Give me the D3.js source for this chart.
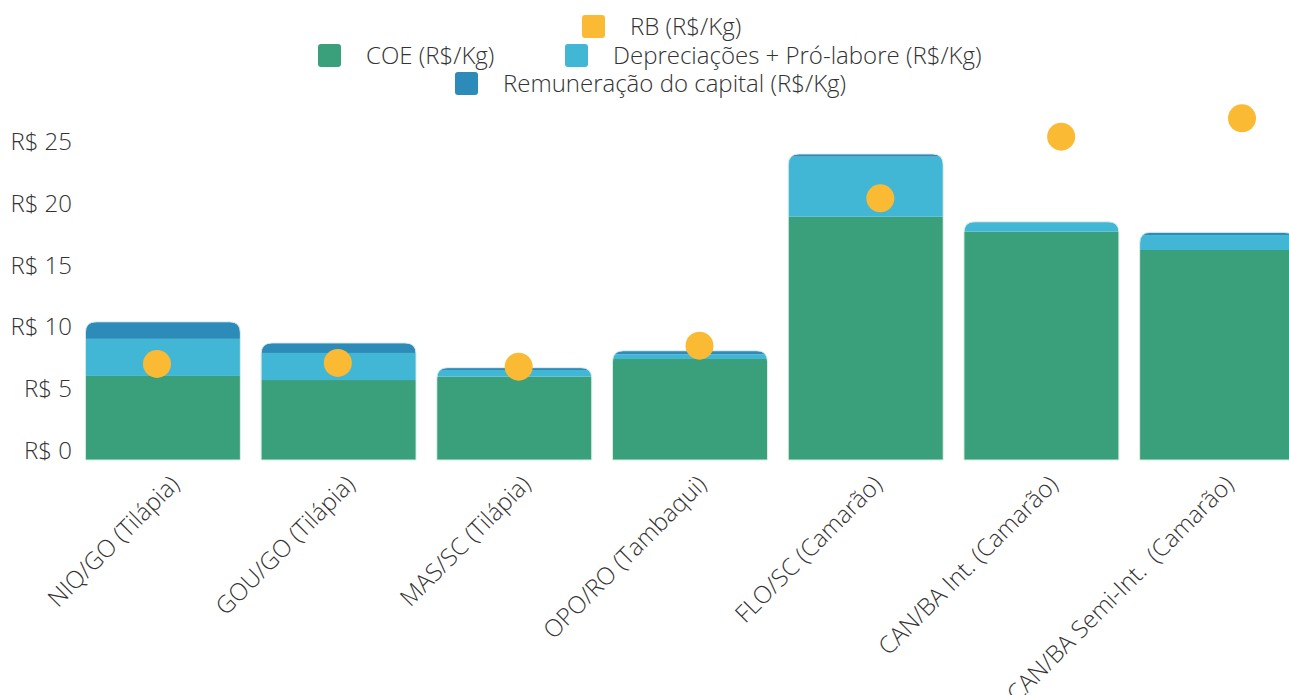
<!DOCTYPE html>
<html>
<head>
<meta charset="utf-8">
<script src="https://cdn.jsdelivr.net/npm/d3@7"></script>
<style>
  body { margin: 0; background: #fff; }
  svg { display: block; font-family: "Open Sans", sans-serif; font-weight: 300; }
  text { white-space: pre; }
</style>
</head>
<body>
<svg id="chart" width="1289" height="695"></svg>
<script>
// data
var categories = ["NIQ/GO (Tilápia)", "GOU/GO (Tilápia)", "MAS/SC (Tilápia)", "OPO/RO (Tambaqui)",
                  "FLO/SC (Camarão)", "CAN/BA Int. (Camarão)", "CAN/BA Semi-Int.  (Camarão)"];
var coe = [6.8, 6.47, 6.74, 8.17, 19.68, 18.47, 16.99];
var deprec = [3.0, 2.19, 0.54, 0.38, 4.86, 0.76, 1.21];
var remun = [1.38, 0.81, 0.19, 0.29, 0.22, 0.05, 0.22];
var rb = [7.77, 7.85, 7.55, 9.25, 21.17, 26.16, 27.64];
var yTicks = [0, 5, 10, 15, 20, 25];

var seriesNames = ["COE (R$/Kg)", "Depreciações + Pró-labore (R$/Kg)", "Remuneração do capital (R$/Kg)"];
var seriesColors = ["#3a9f7b", "#42b7d5", "#2d8bba"];
var rbName = "RB (R$/Kg)";
var rbColor = "#fbba34";

var svg = d3.select("#chart");

var x = d3.scaleBand()
    .domain(categories)
    .range([75, 1305])
    .paddingInner(0.118)
    .paddingOuter(0.059);

// the RB points sit on their own, slightly wider spaced scale
var xPts = d3.scalePoint().domain(categories).range([157, 1242]);

var y = d3.scaleLinear().domain([0, 25]).range([460, 151]);

var rows = categories.map(function(c, i) {
    return { cat: c, coe: coe[i], dep: deprec[i], rem: remun[i], rb: rb[i] };
});
var stack = d3.stack().keys(["coe", "dep", "rem"])(rows);

// y axis labels (baseline sits on the value)
svg.append("g").selectAll("text")
    .data(yTicks)
    .enter().append("text")
    .attr("x", 72)
    .attr("y", function(d) { return y(d) - 1; })
    .attr("text-anchor", "end")
    .attr("font-size", 24)
    .attr("fill", "#333")
    .text(function(d) { return "R$ " + d; });

// rounded-top clip per bar
function topRounded(x0, y0, w, h, r) {
    r = Math.min(r, h, w / 2);
    return "M" + x0 + "," + (y0 + h) +
        "V" + (y0 + r) +
        "Q" + x0 + "," + y0 + " " + (x0 + r) + "," + y0 +
        "H" + (x0 + w - r) +
        "Q" + (x0 + w) + "," + y0 + " " + (x0 + w) + "," + (y0 + r) +
        "V" + (y0 + h) + "Z";
}

var defs = svg.append("defs");
rows.forEach(function(d, i) {
    var top = d.coe + d.dep + d.rem;
    defs.append("clipPath").attr("id", "clip" + i)
        .append("path")
        .attr("d", topRounded(x(d.cat), y(top), x.bandwidth(), y(0) - y(top), 11));
});

var barG = svg.append("g");
rows.forEach(function(d, i) {
    var g = barG.append("g").attr("clip-path", "url(#clip" + i + ")");
    stack.forEach(function(layer, k) {
        var seg = layer[i];
        g.append("rect")
            .attr("x", x(d.cat))
            .attr("y", y(seg[1]))
            .attr("width", x.bandwidth())
            .attr("height", Math.max(0, y(seg[0]) - y(seg[1])))
            .attr("fill", seriesColors[k]);
    });
    var top = d.coe + d.dep + d.rem;
    barG.append("path")
        .attr("d", topRounded(x(d.cat), y(top), x.bandwidth(), y(0) - y(top), 11))
        .attr("fill", "none")
        .attr("stroke", "#d8ece6")
        .attr("stroke-width", 1);
});

// RB points
svg.append("g").selectAll("circle")
    .data(rows)
    .enter().append("circle")
    .attr("cx", function(d) { return xPts(d.cat); })
    .attr("cy", function(d) { return y(d.rb); })
    .attr("r", 14)
    .attr("fill", rbColor);

// x labels
svg.append("g").selectAll("text")
    .data(categories)
    .enter().append("text")
    .attr("transform", function(d) {
        return "translate(" + (x(d) + x.bandwidth() / 2 + 6) + ",474) rotate(-45)";
    })
    .attr("text-anchor", "end")
    .attr("dy", "0.7em")
    .attr("font-size", 24)
    .attr("fill", "#333")
    .text(function(d) { return d; });

// legend
var legendRows = [
    [{ name: rbName, color: rbColor, x: 582 }],
    [{ name: seriesNames[0], color: seriesColors[0], x: 318 }, { name: seriesNames[1], color: seriesColors[1], x: 565 }],
    [{ name: seriesNames[2], color: seriesColors[2], x: 455 }]
];
var legendY = [27, 56, 84];
var legend = svg.append("g");
legendRows.forEach(function(row, r) {
    row.forEach(function(item) {
        legend.append("rect")
            .attr("x", item.x)
            .attr("y", legendY[r] - 12)
            .attr("width", 23)
            .attr("height", 23)
            .attr("rx", 3)
            .attr("fill", item.color);
        legend.append("text")
            .attr("x", item.x + 48)
            .attr("y", legendY[r])
            .attr("dy", "0.35em")
            .attr("font-size", 24)
            .attr("fill", "#333")
            .text(item.name);
    });
});
</script>
</body>
</html>
